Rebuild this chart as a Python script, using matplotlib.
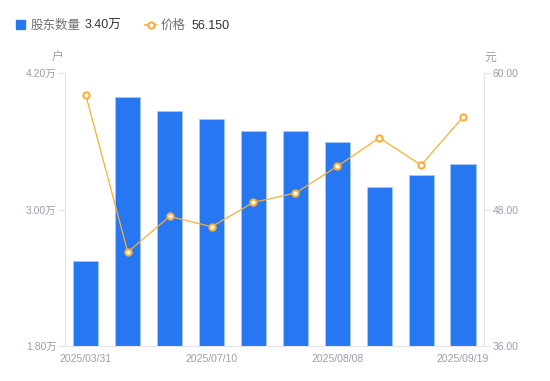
import matplotlib.pyplot as plt
from matplotlib.lines import Line2D
from matplotlib.patches import Rectangle
import numpy as np

plt.rcParams['font.family'] = ['Liberation Sans', 'Noto Sans CJK SC']

dates = ['2025/03/31', '2025/04/30', '2025/06/20', '2025/07/10', '2025/07/20',
         '2025/07/31', '2025/08/08', '2025/08/20', '2025/08/31', '2025/09/19']
holders = [2.55, 3.99, 3.87, 3.80, 3.69, 3.69, 3.59, 3.20, 3.30, 3.40]  # 万户
price = [58.04, 44.26, 47.40, 46.49, 48.63, 49.45, 51.80, 54.31, 51.91, 56.15]
shown_ticks = [0, 3, 6, 9]

bar_color = '#2777F2'
line_color = '#F7B034'
axis_color = '#E3E5EA'
text_gray = '#9A9EAB'

fig = plt.figure(figsize=(5.5, 3.81), dpi=100)
ax1 = fig.add_axes([0.118, 0.092, 0.762, 0.716])
ax2 = ax1.twinx()

x = np.arange(len(dates))
ax1.bar(x, holders, 0.6, color=bar_color, edgecolor='#A9C8FA', linewidth=0.6,
        bottom=0, zorder=2)
ax1.set_ylim(1.8, 4.2)
ax1.set_xlim(-0.5, len(dates) - 0.5)
ax1.set_yticks([1.8, 3.0, 4.2])
ax1.set_yticklabels([f'{v:.2f}万' for v in [1.8, 3.0, 4.2]])
ax1.set_xticks([x[i] for i in shown_ticks])
ax1.set_xticklabels([dates[i] for i in shown_ticks])

ax2.plot(x, price, color=line_color, linewidth=0.9, marker='o', markersize=4.5,
         markerfacecolor='white', markeredgecolor=line_color, markeredgewidth=1.5,
         zorder=3)
ax2.set_ylim(36, 60)
ax2.set_yticks([36, 48, 60])
ax2.set_yticklabels([f'{v:.2f}' for v in [36, 48, 60]])

for ax in (ax1, ax2):
    for s in ax.spines.values():
        s.set_visible(False)
    ax.tick_params(colors=text_gray, labelsize=7.5, length=5, width=0.8)
    ax.tick_params(axis='y', color=axis_color, pad=1)
ax1.tick_params(axis='x', length=0, pad=6)
ax1.spines['left'].set_visible(True)
ax1.spines['left'].set_color(axis_color)
ax1.spines['bottom'].set_visible(True)
ax1.spines['bottom'].set_color(axis_color)
ax2.spines['right'].set_visible(True)
ax2.spines['right'].set_color(axis_color)

# axis units
fig.text(58 / 550, 1 - 58 / 381, '户', color=text_gray, fontsize=8.5,
         ha='center', va='center')
fig.text(490 / 550, 1 - 58 / 381, '元', color=text_gray, fontsize=8.5,
         ha='center', va='center')

# legend row
ly = 1 - 26 / 381
fig.patches.append(Rectangle((16 / 550, 1 - 29 / 381), 9 / 550, 9 / 381,
                             transform=fig.transFigure, color=bar_color))
fig.text(31 / 550, ly, '股东数量', color='#6E7079', fontsize=9, va='center')
fig.text(85 / 550, ly, f'{holders[-1]:.2f}万', color='#333333', fontsize=9,
         va='center')
fig.add_artist(Line2D([145 / 550, 156 / 550], [1 - 24.5 / 381, 1 - 24.5 / 381],
                      transform=fig.transFigure, color=line_color, linewidth=1.2))
fig.add_artist(Line2D([150.5 / 550], [1 - 24.5 / 381], transform=fig.transFigure,
                      marker='o', markersize=4.5, markerfacecolor='white',
                      markeredgecolor=line_color, markeredgewidth=1.5))
fig.text(161 / 550, ly, '价格', color='#6E7079', fontsize=9, va='center')
fig.text(192 / 550, ly, f'{price[-1]:.3f}', color='#333333', fontsize=9,
         va='center')

fig.savefig('out.png', dpi=100)
